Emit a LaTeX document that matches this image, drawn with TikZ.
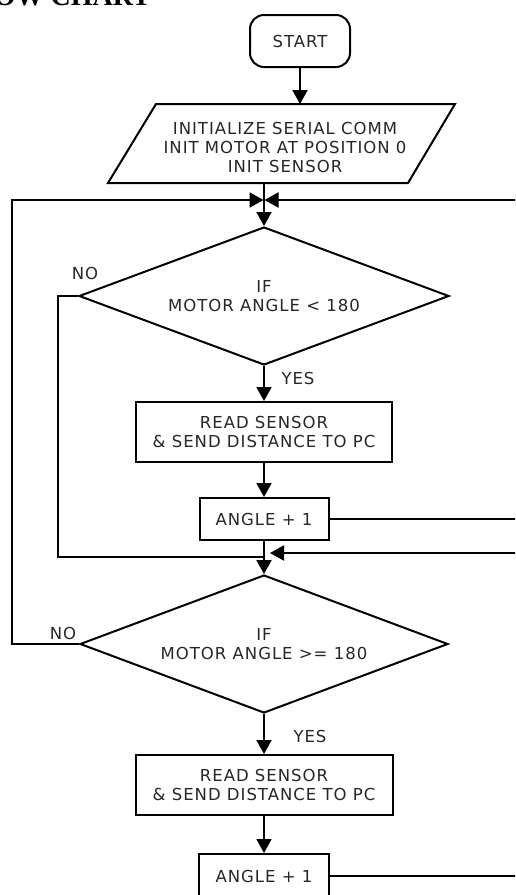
\documentclass[tikz,border=0pt]{standalone}
\usepackage{fontspec}
\usetikzlibrary{arrows.meta,shapes.geometric,calc}
\newfontfamily\fcfont[LetterSpace=6]{DejaVu Sans}
\newfontfamily\titlefont{Liberation Serif}
\begin{document}
\begin{tikzpicture}[x=1pt,y=-1pt,
  line/.style={line width=2pt, draw=black},
  arr/.style={line, -{Triangle[length=14pt,width=15pt]}},
  txt/.style={font=\fcfont\fontsize{16.5}{19}\selectfont, text=black!85, align=center},
  box/.style={txt, draw=black, line width=2pt, inner sep=0pt},
  dec/.style={box, diamond, aspect=2.68},
  lbl/.style={txt, inner sep=0pt}]
\useasboundingbox (0,0) rectangle (515,895);
\clip (0,0) rectangle (515,895);

% cropped title
\node[anchor=base east, inner sep=0pt, font=\titlefont\bfseries\fontsize{28}{30}\selectfont] (title) at (151,5) {FLOW CHART};

% nodes
\node[box, rounded corners=14pt, minimum width=100pt, minimum height=52pt] (start) at (300,41) {START};

\coordinate (pTL) at (156,104);
\coordinate (pTR) at (455,104);
\coordinate (pBR) at (408,183);
\coordinate (pBL) at (108,183);
\draw[line, line join=miter] (pTL) -- (pTR) -- (pBR) -- (pBL) -- cycle;
\node[txt, inner sep=0pt] (init) at (285,147) {INITIALIZE SERIAL COMM\\INIT MOTOR AT POSITION 0\\INIT SENSOR};

\node[dec, minimum width=370pt, minimum height=138pt] (d1) at (264,296) {IF\\MOTOR ANGLE < 180};
\node[box, minimum width=256pt, minimum height=60pt] (r1) at (264,432) {READ SENSOR\\\& SEND DISTANCE TO PC};
\node[box, minimum width=129pt, minimum height=42pt] (b1) at (264,519) {ANGLE + 1};
\node[dec, minimum width=368pt, minimum height=138pt] (d2) at (264,644) {IF\\MOTOR ANGLE >= 180};
\node[box, minimum width=257pt, minimum height=60pt] (r2) at (264,785) {READ SENSOR\\\& SEND DISTANCE TO PC};
\node[box, minimum width=130pt, minimum height=44pt] (b2) at (264,876) {ANGLE + 1};

% labels
\node[lbl] (no1) at (85,273) {NO};
\node[lbl] (no2) at (63,633) {NO};
\node[lbl] (yes1) at (298,378) {YES};
\node[lbl] (yes2) at (310,736) {YES};

% connectors
\coordinate (pT) at (300,104);
\coordinate (pB) at (264,183);
\coordinate (j1) at (264,200);
\coordinate (j2) at (264,553);
\draw[arr] (start.south) -- (pT);
\draw[arr] (pB) -- (d1.north);
\draw[arr] (d1.south) -- (r1.north);
\draw[arr] (r1.south) -- (b1.north);
\draw[arr] (b1.south) -- (d2.north);
\draw[arr] (d2.south) -- (r2.north);
\draw[arr] (r2.south) -- (b2.north);

% NO of second decision back to top
\draw[arr] (d2.west) -- (12,644) -- (12,200) -- ($(j1)+(-0.5,0)$);
% NO of first decision to second decision
\draw[line] (d1.west) -- (58,296) -- (58,557) -- (264,557);
% loop from first ANGLE + 1 back into the trunk
\draw[arr] (b1.east) -- (540,519) -- (540,553) -- ($(j2)+(6,0)$);
% loop from second ANGLE + 1 back to top
\draw[arr] (b2.east) -- (540,876) -- (540,200) -- ($(j1)+(0.5,0)$);
\end{tikzpicture}
\end{document}
